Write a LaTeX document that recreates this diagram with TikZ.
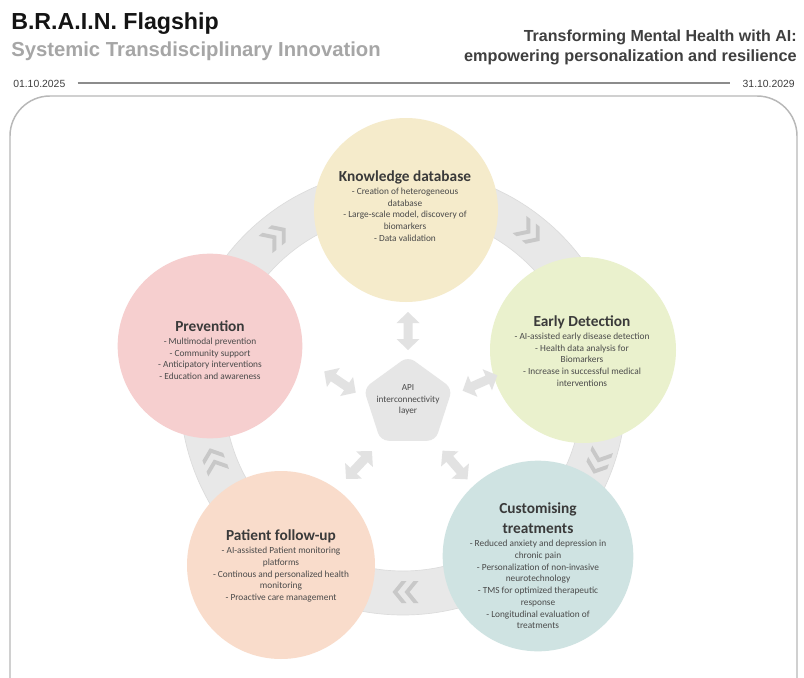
\documentclass[tikz,border=0pt]{standalone}
\usepackage{fontspec}
\setmainfont{Liberation Sans}
\newfontfamily\carl{Carlito}
\usetikzlibrary{shapes.geometric}
\definecolor{framegray}{HTML}{B8B8B8}
\definecolor{ringgray}{HTML}{E8E8E8}
\definecolor{ringedge}{HTML}{DCDCDC}
\definecolor{chevgray}{HTML}{C8C8C8}
\definecolor{arrowgray}{HTML}{E2E2E2}
\definecolor{apigray}{HTML}{E6E6E6}
\definecolor{subgray}{HTML}{A6A6A6}
\definecolor{headgray}{HTML}{3F3F3F}
\definecolor{titlegray}{HTML}{3A3A3A}
\definecolor{bodygray}{HTML}{4A4A4A}
\definecolor{cK}{HTML}{F5EBCB}
\definecolor{cE}{HTML}{EAF1CD}
\definecolor{cC}{HTML}{CFE3E2}
\definecolor{cP}{HTML}{F9DCCB}
\definecolor{cR}{HTML}{F6CFCF}
\newcommand\ctit[1]{{\carl\bfseries\fontsize{11.5}{13}\selectfont\color{titlegray}#1}}
\tikzset{
  circ/.style={circle, inner sep=0pt, draw=none},
  ctext/.style={align=center, inner sep=0pt, text=bodygray, font=\carl\fontsize{7}{8.8}\selectfont},
  hd/.style={inner sep=0pt},
  dblarrow/.pic={\fill[arrowgray] (19,0) -- (8,-11.5) -- (8,-4.5) -- (-8,-4.5) -- (-8,-11.5) -- (-19,0) -- (-8,11.5) -- (-8,4.5) -- (8,4.5) -- (8,11.5) -- cycle;},
  chevs/.pic={\fill[chevgray] (12.5,0) -- (3.5,-11) -- (-1.5,-11) -- (7.5,0) -- (-1.5,11) -- (3.5,11) -- cycle;
              \fill[chevgray] (0.5,0) -- (-8.5,-11) -- (-13.5,-11) -- (-4.5,0) -- (-13.5,11) -- (-8.5,11) -- cycle;}
}
\begin{document}
\begin{tikzpicture}[x=0.75pt,y=-0.75pt]
\useasboundingbox (0,0) rectangle (804,678);
\clip (0,0) rectangle (804,678);
\fill[white] (0,0) rectangle (804,678);
% header
\node[hd, anchor=base west, font=\bfseries\fontsize{17.4}{20}\selectfont, text=black!92] (t1) at (11,30) {B.R.A.I.N. Flagship};
\node[hd, anchor=base west, font=\bfseries\fontsize{15.2}{17}\selectfont, text=subgray] (t2) at (11,56) {Systemic Transdisciplinary Innovation};
\node[hd, anchor=base east, font=\bfseries\fontsize{12}{14}\selectfont, text=headgray] (t3) at (797,41) {Transforming Mental Health with AI:};
\node[hd, anchor=base east, font=\bfseries\fontsize{12.2}{14}\selectfont, text=headgray] (t4) at (797,61) {empowering personalization and resilience};
\node[hd, anchor=base west, font=\fontsize{7.8}{9}\selectfont, text=headgray] (d1) at (13,87) {01.10.2025};
\node[hd, anchor=base east, font=\fontsize{7.8}{9}\selectfont, text=headgray] (d2) at (795,87) {31.10.2029};
\draw[line width=1.5pt, color=black!45] ([xshift=9pt]d1.east) -- ([xshift=-9pt]d2.west);
% frame
\draw[framegray, line width=1.1pt, rounded corners=30pt] (10,96) rectangle (797,740);
% ring
\fill[ringgray, even odd rule] (403,392) circle[radius=223] (403,392) circle[radius=179];
\draw[ringedge, line width=0.5pt] (403,392) circle[radius=223] (403,392) circle[radius=179];
% chevrons
\pic[rotate=39] at (276,236) {chevs};
\pic[rotate=-39] at (530,233) {chevs};
\pic[rotate=-110] at (598,462) {chevs};
\pic[rotate=180] at (405,592) {chevs};
\pic[rotate=110] at (214,460) {chevs};
% circles
\node[circ, fill=cK, minimum size=138pt] (kdb) at (406,210) {};
\node[circ, fill=cE, minimum size=139.5pt] (edet) at (583,350) {};
\node[circ, fill=cC, minimum size=143pt] (cust) at (538,556) {};
\node[circ, fill=cP, minimum size=141pt] (pfu) at (281,565) {};
\node[circ, fill=cR, minimum size=138.5pt] (prev) at (210,346) {};
% api layer
\node[regular polygon, regular polygon sides=5, minimum size=70pt, inner sep=0pt, fill=apigray, rounded corners=6pt] (api) at (408,403) {};
\node[align=center, inner sep=0pt, text=bodygray, font=\carl\fontsize{6.9}{8.8}\selectfont] (apit) at (408,400) {API\\interconnectivity\\layer};
% double arrows
\pic[rotate=90] at (408,331) {dblarrow};
\pic[rotate=-34] at (340,382) {dblarrow};
\pic[rotate=24] at (480,383) {dblarrow};
\pic[rotate=47] at (359,465) {dblarrow};
\pic[rotate=-49] at (455,465) {dblarrow};
% texts
\node[ctext] (kdbt) at (405,206) {\ctit{Knowledge database}\\[1pt]- Creation of heterogeneous\\database\\- Large-scale model, discovery of\\biomarkers\\- Data validation};
\node[ctext] (edett) at (582,351) {\ctit{Early Detection}\\[1pt]- AI-assisted early disease detection\\- Health data analysis for\\Biomarkers\\- Increase in successful medical\\interventions};
\node[ctext] (prevt) at (210,350) {\ctit{Prevention}\\[1pt]- Multimodal prevention\\- Community support\\- Anticipatory interventions\\- Education and awareness};
\node[ctext] (custt) at (538,566) {\ctit{Customising}\\[4.5pt]\ctit{treatments}\\[1pt]- Reduced anxiety and depression in\\chronic pain\\- Personalization of non-invasive\\neurotechnology\\- TMS for optimized therapeutic\\response\\- Longitudinal evaluation of\\treatments};
\node[ctext] (pfut) at (281,566) {\ctit{Patient follow-up}\\[1pt]- AI-assisted Patient monitoring\\platforms\\- Continous and personalized health\\monitoring\\- Proactive care management};
\end{tikzpicture}
\end{document}
